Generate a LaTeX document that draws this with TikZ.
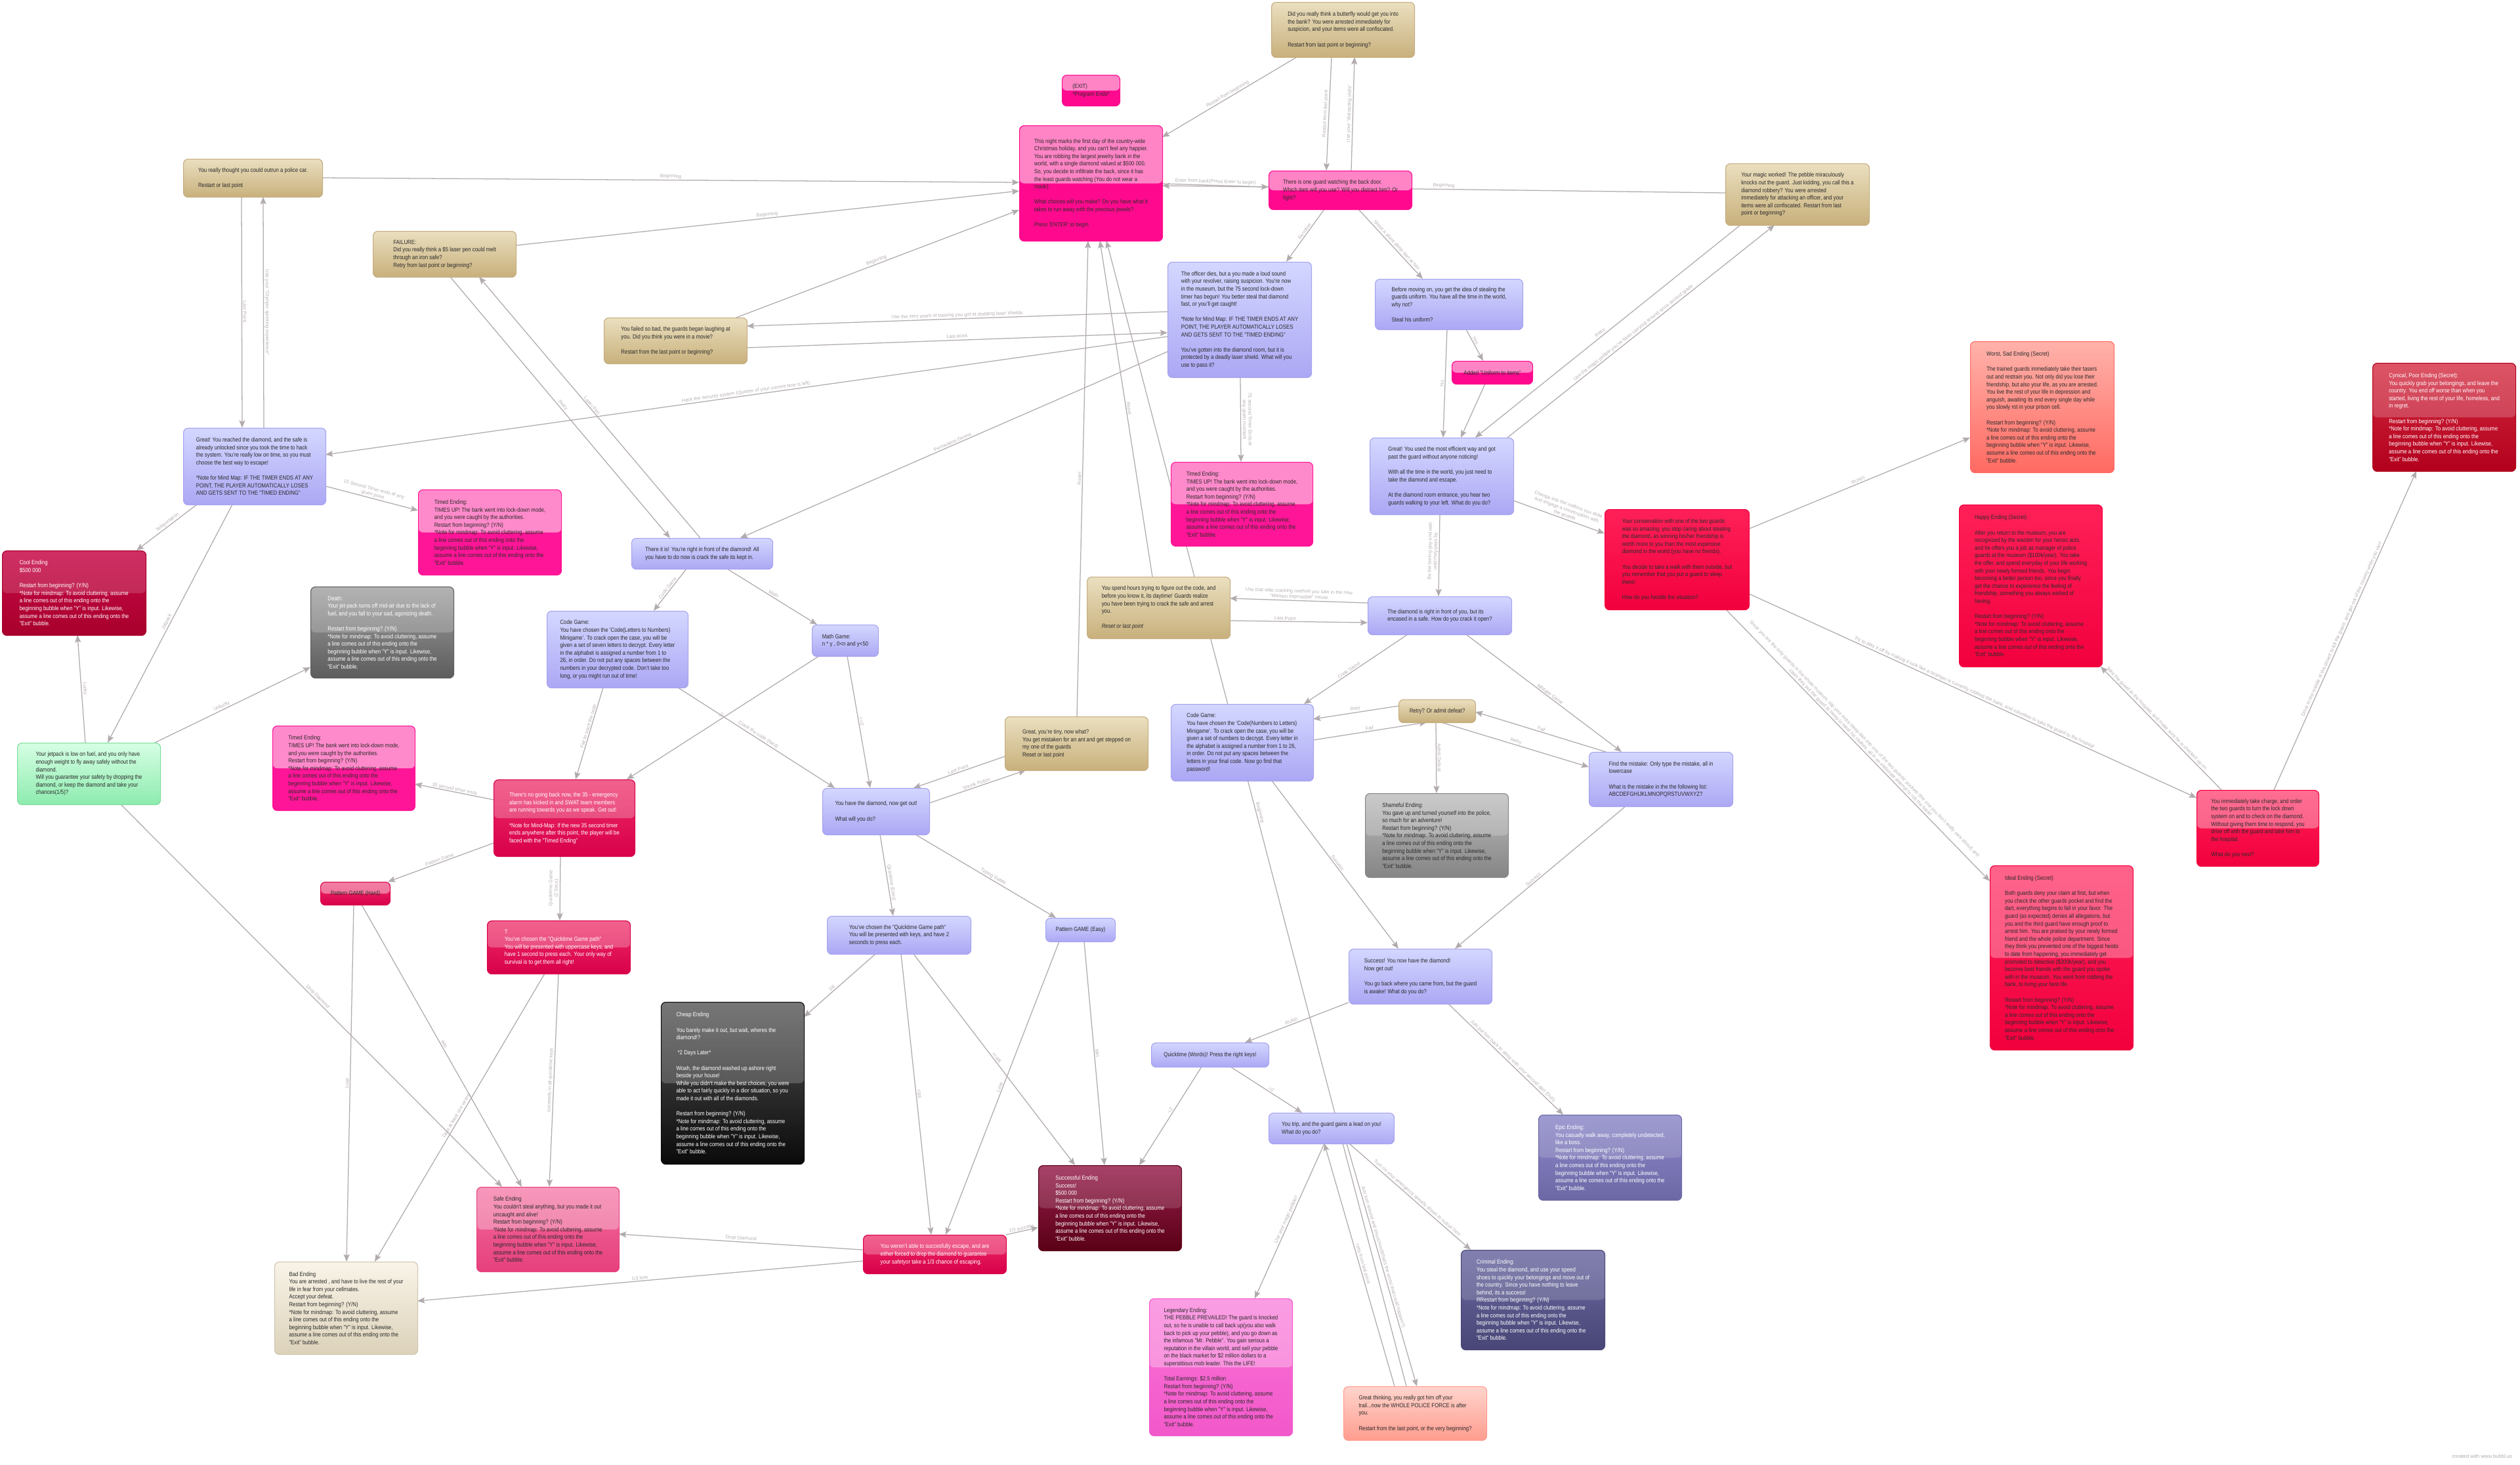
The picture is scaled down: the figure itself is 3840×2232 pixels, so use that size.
\documentclass[tikz,border=0pt]{standalone}
\usepackage{fontspec}
\setmainfont{Liberation Sans}[FakeStretch=0.86]
\newfontfamily\lblfont{Liberation Sans}
\usetikzlibrary{arrows.meta, backgrounds}
\definecolor{txtDark}{HTML}{2B2B2B}
\definecolor{edgeGrey}{HTML}{B2ABAE}
\definecolor{lblGrey}{HTML}{B8B0B4}
\definecolor{tanTop}{HTML}{EADFBF}
\definecolor{tanBot}{HTML}{C8B07C}
\definecolor{tanLine}{HTML}{C4AD80}
\definecolor{lavTop}{HTML}{D3D7FF}
\definecolor{lavBot}{HTML}{ACA7F4}
\definecolor{lavLine}{HTML}{A6A2EE}
\definecolor{pinkBot}{HTML}{FF0A8E}
\definecolor{timedBot}{HTML}{FF1597}
\definecolor{crimTop}{HTML}{EE2C68}
\definecolor{crimBot}{HTML}{D8004A}
\definecolor{coolTop}{HTML}{C80A48}
\definecolor{coolBot}{HTML}{A8002C}
\definecolor{redTop}{HTML}{FF2058}
\definecolor{redBot}{HTML}{F2003E}
\definecolor{worstTop}{HTML}{FFB2AA}
\definecolor{worstBot}{HTML}{FF6A62}
\definecolor{cynTop}{HTML}{D42A40}
\definecolor{cynBot}{HTML}{B2001C}
\definecolor{deathTop}{HTML}{A0A0A0}
\definecolor{deathBot}{HTML}{5C5C5C}
\definecolor{shameTop}{HTML}{BDBDBD}
\definecolor{shameBot}{HTML}{858585}
\definecolor{cheapTop}{HTML}{555555}
\definecolor{cheapBot}{HTML}{0A0A0A}
\definecolor{greenTop}{HTML}{D6FFE4}
\definecolor{greenBot}{HTML}{8DEBAE}
\definecolor{greenLine}{HTML}{7CDC9C}
\definecolor{safeTop}{HTML}{F46C9E}
\definecolor{safeBot}{HTML}{E6407C}
\definecolor{badTop}{HTML}{F9F4E8}
\definecolor{badBot}{HTML}{DCD2BA}
\definecolor{badLine}{HTML}{CFC5AE}
\definecolor{succTop}{HTML}{98204E}
\definecolor{succBot}{HTML}{5A0016}
\definecolor{epicTop}{HTML}{8E8ACA}
\definecolor{epicBot}{HTML}{6C68A6}
\definecolor{crimlTop}{HTML}{6C6AA2}
\definecolor{crimlBot}{HTML}{484676}
\definecolor{legTop}{HTML}{FA74D8}
\definecolor{legBot}{HTML}{F258CA}
\definecolor{thinkTop}{HTML}{FFD4CC}
\definecolor{thinkBot}{HTML}{FF9C8E}
\newcommand\bubfont{\fontsize{6.5}{8.25}\selectfont}
\newcommand\gap{\\[8.25pt]}
\newcommand\mapnote{Restart from beginning? (Y/N)\\*Note for mindmap: To avoid cluttering, assume\\a line comes out of this ending onto the\\beginning bubble when "Y" is input. Likewise,\\assume a line comes out of this ending onto the\\"Exit" bubble.}
\newcommand\timedtext{Timed Ending:\\TIMES UP! The bank went into lock-down mode,\\and you were caught by the authorities.\\\mapnote}

\begin{document}
\begin{tikzpicture}[x=0.025cm, y=-0.025cm,
    bub/.style={anchor=north west, rounded corners=5pt, line width=0.8pt, align=left, inner xsep=6pt, inner ysep=1.5pt, font=\bubfont, text=txtDark},
    sz/.style 2 args={minimum width=#1*0.025cm, minimum height=#2*0.025cm},
    gloss/.style={path picture={\fill[white, opacity=#1] (path picture bounding box.north west) rectangle (path picture bounding box.east);}},
    tanbox/.style={bub, draw=tanLine, top color=tanTop, bottom color=tanBot},
    lavbox/.style={bub, draw=lavLine, top color=lavTop, bottom color=lavBot},
    pinkbox/.style={bub, draw=pinkBot, fill=pinkBot, gloss=.5},
    timedbox/.style={bub, draw=timedBot, fill=timedBot, gloss=.5},
    crimbox/.style={bub, draw=crimBot, top color=crimTop, bottom color=crimBot, text=white, gloss=.25},
    coolbox/.style={bub, draw=coolBot, top color=coolTop, bottom color=coolBot, text=white, gloss=.15},
    redbox/.style={bub, draw=redBot, top color=redTop, bottom color=redBot},
    worstbox/.style={bub, draw=worstBot, top color=worstTop, bottom color=worstBot},
    cynbox/.style={bub, draw=cynBot, top color=cynTop, bottom color=cynBot, text=white, gloss=.2},
    deathbox/.style={bub, draw=deathBot, top color=deathTop, bottom color=deathBot, text=white, gloss=.2},
    shamebox/.style={bub, draw=shameBot, top color=shameTop, bottom color=shameBot, gloss=.2},
    cheapbox/.style={bub, draw=cheapBot, top color=cheapTop, bottom color=cheapBot, text=white, gloss=.2},
    greenbox/.style={bub, draw=greenLine, top color=greenTop, bottom color=greenBot},
    safebox/.style={bub, draw=safeBot, top color=safeTop, bottom color=safeBot, gloss=.3},
    badbox/.style={bub, draw=badLine, top color=badTop, bottom color=badBot},
    succbox/.style={bub, draw=succBot, top color=succTop, bottom color=succBot, text=white, gloss=.15},
    epicbox/.style={bub, draw=epicBot, top color=epicTop, bottom color=epicBot, text=white, gloss=.15},
    crimlbox/.style={bub, draw=crimlBot, top color=crimlTop, bottom color=crimlBot, text=white, gloss=.15},
    legbox/.style={bub, draw=legBot, top color=legTop, bottom color=legBot, gloss=.3},
    thinkbox/.style={bub, draw=thinkBot, top color=thinkTop, bottom color=thinkBot},
    link/.style={draw=edgeGrey, line width=0.9pt, -{Stealth[length=8pt, width=6.5pt, inset=1.5pt]}},
    rlink/.style={draw=edgeGrey, line width=0.9pt, {Stealth[length=8pt, width=6.5pt, inset=1.5pt]}-},
    lbl/.style={font=\lblfont\fontsize{5.2}{6}\selectfont, text=lblGrey, sloped, above, inner sep=1pt, align=center}]
  \useasboundingbox (0,0) rectangle (3840,2232);

  % start and the back door
  \node[pinkbox, sz={88}{47}] (exit) at (1618,114) {(EXIT)\\*Program Ends*};
  \node[pinkbox, sz={218}{176}] (start) at (1553,191) {This night marks the first day of the country-wide\\Christmas holiday, and you can't feel any happier.\\You are robbing the largest jewelry bank in the\\world, with a single diamond valued at \$500 000.\\So, you decide to infiltrate the back, since it has\\the least guards watching (You do not wear a\\mask):\gap What choices will you make? Do you have what it\\takes to run away with the precious jewels?\gap Press 'ENTER' to begin.};
  \node[tanbox, sz={218}{84}] (butterfly) at (1937,3) {Did you really think a butterfly would get you into\\the bank? You were arrested immediately for\\suspicion, and your items were all confiscated.\gap Restart from last point or beginning?};
  \node[pinkbox, sz={218}{59}] (guard) at (1933,260) {There is one guard watching the back door.\\Which item will you use? Will you distract him? Or\\fight?};
  \node[tanbox, sz={219}{94}] (magic) at (2629,249) {Your magic worked! The pebble miraculously\\knocks out the guard. Just kidding,  you call this a\\diamond robbery?  You were arrested\\immediately for attacking an officer, and your\\items were all confiscated.  Restart from last\\point or beginning?};
  \node[lavbox, sz={219}{176}] (officer) at (1779,399) {The officer dies, but a you made a loud sound\\with your revolver, raising suspicion.  You're now\\in the museum, but the 75 second lock-down\\timer has begun! You better steal that diamond\\fast, or you'll get caught!\gap *Note for Mind Map: IF THE TIMER ENDS AT ANY\\POINT, THE PLAYER AUTOMATICALLY LOSES\\AND GETS SENT TO THE "TIMED ENDING"\gap You've gotten into the diamond room, but it is\\protected by a deadly laser shield. What will you\\use to pass it?};
  \node[lavbox, sz={225}{77}] (uniform) at (2095,425) {Before moving on, you get the idea of stealing the\\guards uniform. You have all the time in the world,\\why not?\gap Steal his uniform?};
  \node[pinkbox, sz={123}{35}] (added) at (2212,550) {Added "Uniform to items"};
  \node[lavbox, sz={219}{117}] (efficient) at (2087,667) {Great! You used the most efficient way and got\\past the guard without anyone noticing!\gap With all the time in the world, you just need to\\take the diamond and escape.\gap At the diamond room entrance, you hear two\\guards walking to your left. What do you do?};
  \node[timedbox, sz={216}{128}] (timedc) at (1784,704) {\timedtext};

  % left side
  \node[tanbox, sz={212}{58}] (police) at (279,242) {You really thought you could outrun a police car.\gap Restart or last point};
  \node[tanbox, sz={218}{70}] (failure) at (568,352) {FAILURE:\\Did you really think a \$5 laser pen could melt\\through an iron safe?\\ Retry from last point or beginning?};
  \node[tanbox, sz={218}{70}] (failed) at (920,484) {You failed so bad, the guards began laughing at\\you. Did you think you were in a movie?\gap Restart from the last point or beginning?};
  \node[lavbox, sz={217}{117}] (reached) at (279,652) {Great! You reached the diamond, and the safe is\\already unlocked since you took the time to hack\\the system. You're really low on time, so you must\\choose the best way to escape!\gap *Note for Mind Map: IF THE TIMER ENDS AT ANY\\POINT, THE PLAYER AUTOMATICALLY LOSES\\AND GETS SENT TO THE "TIMED ENDING"};
  \node[timedbox, sz={218}{130}] (timeda) at (637,746) {\timedtext};
  \node[coolbox, sz={219}{129}] (cool) at (3,839) {Cool Ending\\\$500 000\gap \mapnote};
  \node[deathbox, sz={218}{139}] (death) at (473,894) {Death:\\Your jet-pack turns off mid-air due to the lack of\\fuel, and you fall to your sad, agonizing death.\gap \mapnote};
  \node[greenbox, sz={218}{94}] (jetpack) at (26,1132) {Your jetpack is low on fuel, and you only have\\enough weight to fly away safely without the\\diamond.\\Will you guarantee your safety by dropping the\\diamond, or keep the diamond and take your\\chances(1/5)?};
  \node[timedbox, sz={217}{129}] (timedb) at (415,1106) {\timedtext};

  % the safe
  \node[lavbox, sz={215}{47}] (thereitis) at (962,820) {There it is! You're right in front of the diamond! All\\you have to do now is crack the safe its kept in.};
  \node[lavbox, sz={215}{117}] (codel) at (833,931) {Code Game:\\You have chosen the 'Code(Letters to Numbers)\\Minigame'. To crack open the case, you will be\\given a set of seven letters to decrypt. Every letter\\in the alphabet is assigned a number from 1 to\\26, in order. Do not put any spaces between the\\numbers in your decrypted code. Don't take too\\long, or you might run out of time!};
  \node[lavbox, sz={101}{48}] (mathgame) at (1237,952) {Math Game:\\n * y , 0<n and y<50};
  \node[crimbox, sz={215}{117}] (alarm) at (752,1188) {There's no going back now, the 35 - emergency\\alarm has kicked in and SWAT team members\\are running towards you as we speak. Get out!\gap *Note for Mind-Map: If the new 35 second timer\\ends anywhere after this point, the player will be\\faced with the "Timed Ending"};
  \node[crimbox, sz={106}{35}, text=txtDark, gloss=.4] (patternhard) at (488,1344) {Pattern GAME (Hard)};
  \node[crimbox, sz={218}{81}] (quickb) at (742,1403) {T\\You've chosen the "Quicktime Game path"\\You will be presented with uppercase keys, and\\have 1 second to press each. Your only way of\\survival is to get them all right!};
  \node[lavbox, sz={163}{71}] (gotit) at (1253,1201) {You have the diamond, now get out!\gap What will you do?};
  \node[tanbox, sz={218}{82}] (tiny) at (1531,1092) {Great, you're tiny, now what?\\You get mistaken for an ant and get stepped on\\my one of the guards\\Reset or last point};
  \node[tanbox, sz={218}{94}] (hours) at (1656,879) {You spend hours trying to figure out the code, and\\before you know it, its daytime! Guards realize\\you have been trying to crack the safe and arrest\\you.\gap \textit{Reset or  last point}};
  \node[lavbox, sz={219}{58}] (quicka) at (1260,1396) {You've chosen the "Quicktime Game path"\\You will be presented with keys, and have 2\\seconds to press each.};
  \node[lavbox, sz={106}{36}] (patterneasy) at (1593,1399) {Pattern GAME (Easy)};
  \node[cheapbox, sz={218}{247}] (cheap) at (1007,1527) {Cheap Ending\gap You barely make it out, but wait, wheres the\\diamond!?\gap \ *2 Days Later*\gap Woah, the diamond washed up ashore right\\beside your house!\\While you didn`t make the best choices, you were\\able to act fairly quickly in a dior situation, so you\\made it out with all of the diamonds.\gap \mapnote};
  \node[succbox, sz={218}{130}] (successful) at (1582,1776) {Successful Ending\\Success!\\\$500 000\\\mapnote};
  \node[crimbox, sz={218}{59}] (escape) at (1315,1882) {You weren't able to succesfully escape, and are\\either forced to drop the diamond to guarantee\\your safetyor take a 1/3 chance of escaping.};
  \node[safebox, sz={217}{129}] (safe) at (726,1809) {Safe Ending\\You couldn't steal anything, but you made it out\\uncaught and alive!\\\mapnote};
  \node[badbox, sz={218}{141}] (bad) at (418,1923) {Bad Ending\\You are arrested , and have to live the rest of your\\life in fear from your cellmates.\\Accept your defeat.\\\mapnote};

  % diamond room
  \node[lavbox, sz={219}{58}] (encased) at (2084,909) {The diamond is right in front of you, but its\\encased in a safe. How do you crack it open?};
  \node[lavbox, sz={217}{117}] (coden) at (1784,1073) {Code Game:\\You have chosen the 'Code(Numbers to Letters)\\Minigame'. To crack open the case, you will be\\given a set of numbers to decrypt. Every letter in\\the alphabet is assigned a number from 1 to 26,\\in order. Do not put any spaces between the\\letters in your final code. Now go find that\\password!};
  \node[tanbox, sz={117}{35}] (retry) at (2131,1066) {Retry? Or admit defeat?};
  \node[lavbox, sz={219}{83}] (mistake) at (2421,1146) {Find the mistake: Only type the mistake, all in\\lowercase\gap What is the mistake in the the following list:\\ABCDEFGHIJKLMNOPQRSTUVWXYZ?};
  \node[shamebox, sz={218}{128}] (shameful) at (2080,1209) {Shameful Ending:\\You gave up and turned yourself into the police,\\so much for an adventure!\\\mapnote};
  \node[lavbox, sz={218}{84}] (success) at (2055,1446) {Success! You now have the diamond!\\Now get out!\gap You go back where you came from, but the guard\\is awake! What do you do?};
  \node[lavbox, sz={179}{37}] (words) at (1754,1589) {Quicktime (Words)! Press the right keys!};
  \node[lavbox, sz={191}{47}] (trip) at (1933,1696) {You trip, and the guard gains a lead on you!\\What do you do?};
  \node[epicbox, sz={218}{130}] (epic) at (2344,1699) {Epic Ending:\\You casually walk away, completely undetected,\\like a boss.\\\mapnote};
  \node[crimlbox, sz={219}{152}] (criminal) at (2226,1905) {Criminal Ending:\\ You steal the diamond, and use your speed\\shoes to quickly your belongings and move out of\\the country. Since you have nothing to leave\\behind, its a success!\\RRestart from beginning? (Y/N)\\*Note for mindmap: To avoid cluttering, assume\\a line comes out of this ending onto the\\beginning bubble when "Y" is input. Likewise,\\assume a line comes out of this ending onto the\\"Exit" bubble.};
  \node[legbox, sz={218}{209}] (legendary) at (1751,1979) {Legendary Ending:\\THE PEBBLE PREVAILED! The guard is knocked\\out, so he is unable to call back up(you also walk\\back to pick up your pebble), and you go down as\\the infamous "Mr. Pebble". You gain serious a\\reputation in the villain world, and sell your pebble\\on the black market for \$2 million dollars to a\\superstitious mob leader. This the LIFE!\gap Total Earnings: \$2.5 million\\\mapnote};
  \node[thinkbox, sz={218}{82}] (thinking) at (2047,2113) {Great thinking, you really got him off your\\trail...now the WHOLE POLICE FORCE is after\\you.\gap Restart from the last point, or the very beginning?};

  % the secret endings
  \node[redbox, sz={220}{153}] (convo) at (2445,776) {Your conservation with one of the two guards\\was so amazing, you stop caring about stealing\\the diamond, as winning his/her friendship is\\worth more to you than the most expensive\\diamond in the world (you have no friends).\gap You decide to take a walk with them outside, but\\you remember that you put a guard to sleep\\there!\gap How do you handle the situation?};
  \node[worstbox, sz={219}{200}] (worst) at (3002,520) {Worst, Sad Ending (Secret)\gap The trained guards immediately take their tasers\\out and restrain you. Not only did you lose their\\friendship, but also your life, as you are arrested.\\You live the rest of your life in depression and\\anguish, awaiting its end every single day while\\you slowly rot in your prison cell.\gap \mapnote};
  \node[cynbox, sz={218}{165}] (cynical) at (3615,553) {Cynical, Poor Ending (Secret):\\You quickly grab your belongings, and leave the\\country. You end off worse than when you\\started, living the rest of your life, homeless, and\\in regret.\gap \mapnote};
  \node[redbox, sz={218}{247}] (happy) at (2985,769) {Happy Ending (Secret)\gap After you return to the museum, you are\\recognized by the warden for your heroic acts,\\and he offers you a job as manager of police\\guards at the museum (\$100k/year). You take\\the offer, and spend everyday of your life working\\with your newly formed friends. You begin\\becoming a better person too, since you finally\\get the chance to experience the feeling of\\friendship, something you always wished of\\having.\gap \mapnote};
  \node[redbox, sz={186}{116}, gloss=.35] (charge) at (3347,1204) {You immediately take charge, and order\\the two guards to turn the lock down\\system on and to check on the diamond.\\Without giving them time to respond, you\\drive off with the guard and take him to\\the hospital.\gap What do you next?};
  \node[redbox, sz={218}{281}, gloss=.3] (ideal) at (3032,1319) {Ideal Ending (Secret)\gap Both guards deny your claim at first, but when\\you check the other guards pocket and find the\\dart, everything begins to fall in your favor. The\\guard (as expected) denies all allegations, but\\you and the third guard have enough proof to\\arrest him. You are praised by your newly formed\\friend and the whole police department. Since\\they think you prevented one of the biggest heists\\to date from happening, you immediately get\\promoted to detective (\$200k/year), and you\\become best friends with the guard you spoke\\with in the museum. You went from robbing the\\bank, to living your best life.\gap \mapnote};

  \node[anchor=south east, font=\lblfont\fontsize{5.5}{6}\selectfont, text=edgeGrey] (credit) at (3833,2228) {created with www.bubbl.us};

  \begin{pgfonlayer}{background}
    \fill[white] (0,0) rectangle (3840,2232);
    % into the start bubble
    \draw[link] ([shift={(212,29)}]police.north west) -- node[lbl]{Beginning} ([shift={(0,87)}]start.north west);
    \draw[link] ([shift={(218,22)}]failure.north west) -- node[lbl]{Beginning} ([shift={(0,100)}]start.north west);
    \draw[link] ([shift={(202,0)}]failed.north west) -- node[lbl]{Beginning} ([shift={(0,129)}]start.north west);
    \draw[link] ([shift={(39,84)}]butterfly.north west) -- node[lbl]{Restart from beginning} ([shift={(218,18)}]start.north west);
    \draw[link] ([shift={(0,45)}]magic.north west) -- node[lbl]{Beginning} ([shift={(218,92)}]start.north west);
    \draw[link] ([shift={(110,0)}]tiny.north west) -- node[lbl]{Reset} ([shift={(105,176)}]start.north west);
    \draw[link] ([shift={(100,0)}]hours.north west) -- node[lbl]{Reset} ([shift={(123,176)}]start.north west);
    \draw[link] ([shift={(96,0)}]thinking.north west) -- node[lbl]{Beginning} ([shift={(133,176)}]start.north west);
    % back door
    \draw[link] ([shift={(218,89)}]start.north west) -- node[lbl]{Enter from back(Press Enter to begin)} ([shift={(0,25)}]guard.north west);
    \draw[link] ([shift={(92,84)}]butterfly.north west) -- node[lbl]{Restart from last point} ([shift={(88,0)}]guard.north west);
    \draw[link] ([shift={(126,0)}]guard.north west) -- node[lbl]{Use your "distracting skills"} ([shift={(127,84)}]butterfly.north west);
    \draw[link] ([shift={(85,59)}]guard.north west) -- node[lbl, pos=.45]{Revolver} ([shift={(181,0)}]officer.north west);
    \draw[link] ([shift={(137,59)}]guard.north west) -- node[lbl, pos=.55]{Shoot a silent sleep dart at him} ([shift={(73,0)}]uniform.north west);
    \draw[link] ([shift={(139,77)}]uniform.north west) -- node[lbl, pos=.4]{Yes} ([shift={(48,0)}]added.north west);
    \draw[link] ([shift={(110,77)}]uniform.north west) -- node[lbl]{No} ([shift={(112,0)}]efficient.north west);
    \draw[link] ([shift={(51,35)}]added.north west) -- ([shift={(139,0)}]efficient.north west);
    \draw[link] ([shift={(210,0)}]efficient.north west) -- node[lbl, pos=.48]{Use the magic pebble you've been carrying around since second grade} ([shift={(75,94)}]magic.north west);
    \draw[link] ([shift={(23,94)}]magic.north west) -- node[lbl, pos=.52]{Retry} ([shift={(161,0)}]efficient.north west);
    \draw[link] ([shift={(107,117)}]efficient.north west) -- node[lbl, pos=.45]{Be the boring guy and wait\\until they pass by} ([shift={(108,0)}]encased.north west);
    \draw[link] ([shift={(219,96)}]efficient.north west) -- node[lbl, pos=.55]{Change into the uniform you stole\\and engage a conversation with\\the guards} ([shift={(0,37)}]convo.north west);
    % secret endings
    \draw[link] ([shift={(220,30)}]convo.north west) -- node[lbl]{RUN!!!} ([shift={(0,147)}]worst.north west);
    \draw[link] ([shift={(220,129)}]convo.north west) -- node[lbl]{Try to play it off by making it look like a stranger is currently robbing the bank, and volunteer to take the guard to the hospital} ([shift={(0,12)}]charge.north west);
    \draw[link] ([shift={(185,153)}]convo.north west) -- node[lbl]{Since you are the only guards in the whole museum, slip your extra sleep dart into one of the two guards' pockets (the one you don't really care about) and\\claim they put the guard to sleep to steal his clothes, all in an elaborate attempt to rob the bank!} ([shift={(0,24)}]ideal.north west);
    \draw[link] ([shift={(38,0)}]charge.north west) -- node[lbl, pos=.56]{Take the guard to the hospital, and make sure he is checked up on} ([shift={(216,247)}]happy.north west);
    \draw[link] ([shift={(118,0)}]charge.north west) -- node[lbl]{Drive to the middle of the desert to kill the guard, and get out of the country while you can!} ([shift={(67,165)}]cynical.north west);
    % officer and the laser shield
    \draw[link] ([shift={(0,76)}]officer.north west) -- node[lbl]{Use the zero years of training you got at dodging laser shields} ([shift={(218,13)}]failed.north west);
    \draw[link] ([shift={(218,46)}]failed.north west) -- node[lbl]{Last point} ([shift={(0,108)}]officer.north west);
    \draw[link] ([shift={(0,114)}]officer.north west) -- node[lbl]{Hack the security system (Quarter of your current time is left)} ([shift={(217,41)}]reached.north west);
    \draw[link] ([shift={(0,137)}]officer.north west) -- node[lbl]{Permeation Device} ([shift={(166,0)}]thereitis.north west);
    \draw[link] ([shift={(111,176)}]officer.north west) -- node[lbl]{75 second Timer Ends at\\any given moment} ([shift={(107,0)}]timedc.north west);
    \draw[link] ([shift={(118,70)}]failure.north west) -- node[lbl]{Retry} ([shift={(59,0)}]thereitis.north west);
    \draw[link] ([shift={(105,0)}]thereitis.north west) -- node[lbl]{Laser Pen} ([shift={(162,70)}]failure.north west);
    % escape after hacking
    \draw[link] ([shift={(89,58)}]police.north west) -- node[lbl]{Last Point.} ([shift={(90,0)}]reached.north west);
    \draw[rlink] ([shift={(122,58)}]police.north west) -- node[lbl]{Use your "Olympic sprinting experience"} ([shift={(123,0)}]reached.north west);
    \draw[link] ([shift={(217,89)}]reached.north west) -- node[lbl]{15 Second Timer ends at any\\given point} ([shift={(0,32)}]timeda.north west);
    \draw[link] ([shift={(21,117)}]reached.north west) -- node[lbl, pos=.45]{Teleportation} ([shift={(205,0)}]cool.north west);
    \draw[link] ([shift={(75,117)}]reached.north west) -- node[lbl]{Jetpack} ([shift={(138,0)}]jetpack.north west);
    \draw[link] ([shift={(104,0)}]jetpack.north west) -- node[lbl]{Lucky} ([shift={(115,129)}]cool.north west);
    \draw[link] ([shift={(210,0)}]jetpack.north west) -- node[lbl, pos=.44]{Unlucky} ([shift={(0,123)}]death.north west);
    \draw[link] ([shift={(158,94)}]jetpack.north west) -- node[lbl, pos=.51]{Drop Diamond} ([shift={(39,0)}]safe.north west);
    % cracking the safe
    \draw[link] ([shift={(84,47)}]thereitis.north west) -- node[lbl]{Code Game} ([shift={(163,0)}]codel.north west);
    \draw[link] ([shift={(146,47)}]thereitis.north west) -- node[lbl]{Math} ([shift={(8,0)}]mathgame.north west);
    \draw[link] ([shift={(86,117)}]codel.north west) -- node[lbl, pos=.43]{Fail to crack the code} ([shift={(125,0)}]alarm.north west);
    \draw[link] ([shift={(11,48)}]mathgame.north west) -- node[lbl]{>2} ([shift={(203,0)}]alarm.north west);
    \draw[link] ([shift={(54,48)}]mathgame.north west) -- node[lbl]{<=2} ([shift={(73,0)}]gotit.north west);
    \draw[link] ([shift={(200,117)}]codel.north west) -- node[lbl]{Crack the code (hard)} ([shift={(19,0)}]gotit.north west);
    \draw[link] ([shift={(0,31)}]alarm.north west) -- node[lbl]{35 second timer ends} ([shift={(217,89)}]timedb.north west);
    \draw[link] ([shift={(0,97)}]alarm.north west) -- node[lbl]{Pattern Game} ([shift={(103,0)}]patternhard.north west);
    \draw[link] ([shift={(102,117)}]alarm.north west) -- node[lbl]{Quicktime Game\\(2 Secs)} ([shift={(111,0)}]quickb.north west);
    \draw[link] ([shift={(51,35)}]patternhard.north west) -- node[lbl]{Lose} ([shift={(110,0)}]bad.north west);
    \draw[link] ([shift={(63,35)}]patternhard.north west) -- node[lbl]{Win} ([shift={(69,0)}]safe.north west);
    \draw[link] ([shift={(88,81)}]quickb.north west) -- node[lbl]{Gets at least one wrong} ([shift={(153,0)}]bad.north west);
    \draw[link] ([shift={(109,81)}]quickb.north west) -- node[lbl]{succeeds in all quicktime keys} ([shift={(111,0)}]safe.north west);
    % getting out with the diamond
    \draw[link] ([shift={(163,23)}]gotit.north west) -- node[lbl]{Shrink Potion} ([shift={(32,82)}]tiny.north west);
    \draw[link] ([shift={(0,61)}]tiny.north west) -- node[lbl]{Last Point} ([shift={(139,0)}]gotit.north west);
    \draw[link] ([shift={(88,71)}]gotit.north west) -- node[lbl, pos=.6]{Quicktime (Easy)} ([shift={(101,0)}]quicka.north west);
    \draw[link] ([shift={(142,71)}]gotit.north west) -- node[lbl, pos=.54]{Typing GaMe} ([shift={(16,0)}]patterneasy.north west);
    \draw[link] ([shift={(74,58)}]quicka.north west) -- node[lbl, pos=.58]{3/6} ([shift={(218,23)}]cheap.north west);
    \draw[link] ([shift={(113,58)}]quicka.north west) -- node[lbl]{>3/6} ([shift={(104,0)}]escape.north west);
    \draw[link] ([shift={(132,58)}]quicka.north west) -- node[lbl]{<=4/6} ([shift={(56,0)}]successful.north west);
    \draw[link] ([shift={(21,36)}]patterneasy.north west) -- node[lbl]{Lose} ([shift={(126,0)}]escape.north west);
    \draw[link] ([shift={(59,36)}]patterneasy.north west) -- node[lbl]{Win} ([shift={(101,0)}]successful.north west);
    \draw[link] ([shift={(218,0)}]escape.north west) -- node[lbl]{1/3 success} ([shift={(0,95)}]successful.north west);
    \draw[link] ([shift={(0,23)}]escape.north west) -- node[lbl]{Drop Diamond} ([shift={(217,72)}]safe.north west);
    \draw[link] ([shift={(0,40)}]escape.north west) -- node[lbl]{1/3 loss} ([shift={(218,60)}]bad.north west);
    % diamond room
    \draw[link] ([shift={(0,10)}]encased.north west) -- node[lbl]{Use that safe cracking method you saw in the new\\"Mission Impossible" movie} ([shift={(218,33)}]hours.north west);
    \draw[link] ([shift={(218,67)}]hours.north west) -- node[lbl, pos=.4]{Last Point} ([shift={(0,40)}]encased.north west);
    \draw[link] ([shift={(61,58)}]encased.north west) -- node[lbl, pos=.55]{Code Game} ([shift={(203,0)}]coden.north west);
    \draw[link] ([shift={(150,58)}]encased.north west) -- node[lbl, pos=.53]{Mistake Game} ([shift={(50,0)}]mistake.north west);
    \draw[link] ([shift={(0,10)}]retry.north west) -- node[lbl]{Rety} ([shift={(217,23)}]coden.north west);
    \draw[link] ([shift={(217,55)}]coden.north west) -- node[lbl]{Fail} ([shift={(43,35)}]retry.north west);
    \draw[link] ([shift={(26,0)}]mistake.north west) -- node[lbl]{Fail} ([shift={(117,19)}]retry.north west);
    \draw[link] ([shift={(65,35)}]retry.north west) -- node[lbl]{Retry} ([shift={(0,23)}]mistake.north west);
    \draw[link] ([shift={(57,35)}]retry.north west) -- node[lbl]{Admit Defeat} ([shift={(109,0)}]shameful.north west);
    \draw[link] ([shift={(56,83)}]mistake.north west) -- node[lbl, pos=.53]{Success} ([shift={(162,0)}]success.north west);
    \draw[link] ([shift={(154,117)}]coden.north west) -- node[lbl]{Success} ([shift={(76,0)}]success.north west);
    % the guard is awake
    \draw[link] ([shift={(0,82)}]success.north west) -- node[lbl, pos=.54]{RUN!!} ([shift={(143,0)}]words.north west);
    \draw[link] ([shift={(152,84)}]success.north west) -- node[lbl, pos=.54]{Just put him back to sleep with your second dart (Duh)} ([shift={(38,0)}]epic.north west);
    \draw[link] ([shift={(77,37)}]words.north west) -- node[lbl, pos=.46]{<2} ([shift={(154,0)}]successful.north west);
    \draw[link] ([shift={(121,37)}]words.north west) -- node[lbl, pos=.55]{>2} ([shift={(51,0)}]trip.north west);
    \draw[link] ([shift={(123,47)}]trip.north west) -- node[lbl, pos=.54]{Turn on your emergency speedy shoes to outrun him!} ([shift={(15,0)}]criminal.north west);
    \draw[link] ([shift={(119,47)}]trip.north west) -- node[lbl, pos=.47]{Just turn around and shoot him(What's the worst that could happen?)} ([shift={(112,0)}]thinking.north west);
    \draw[link] ([shift={(78,0)}]thinking.north west) -- node[lbl]{retry from last point} ([shift={(85,47)}]trip.north west);
    \draw[link] ([shift={(85,47)}]trip.north west) -- node[lbl]{Use your magic pebble!!} ([shift={(161,0)}]legendary.north west);
  \end{pgfonlayer}
\end{tikzpicture}
\end{document}
